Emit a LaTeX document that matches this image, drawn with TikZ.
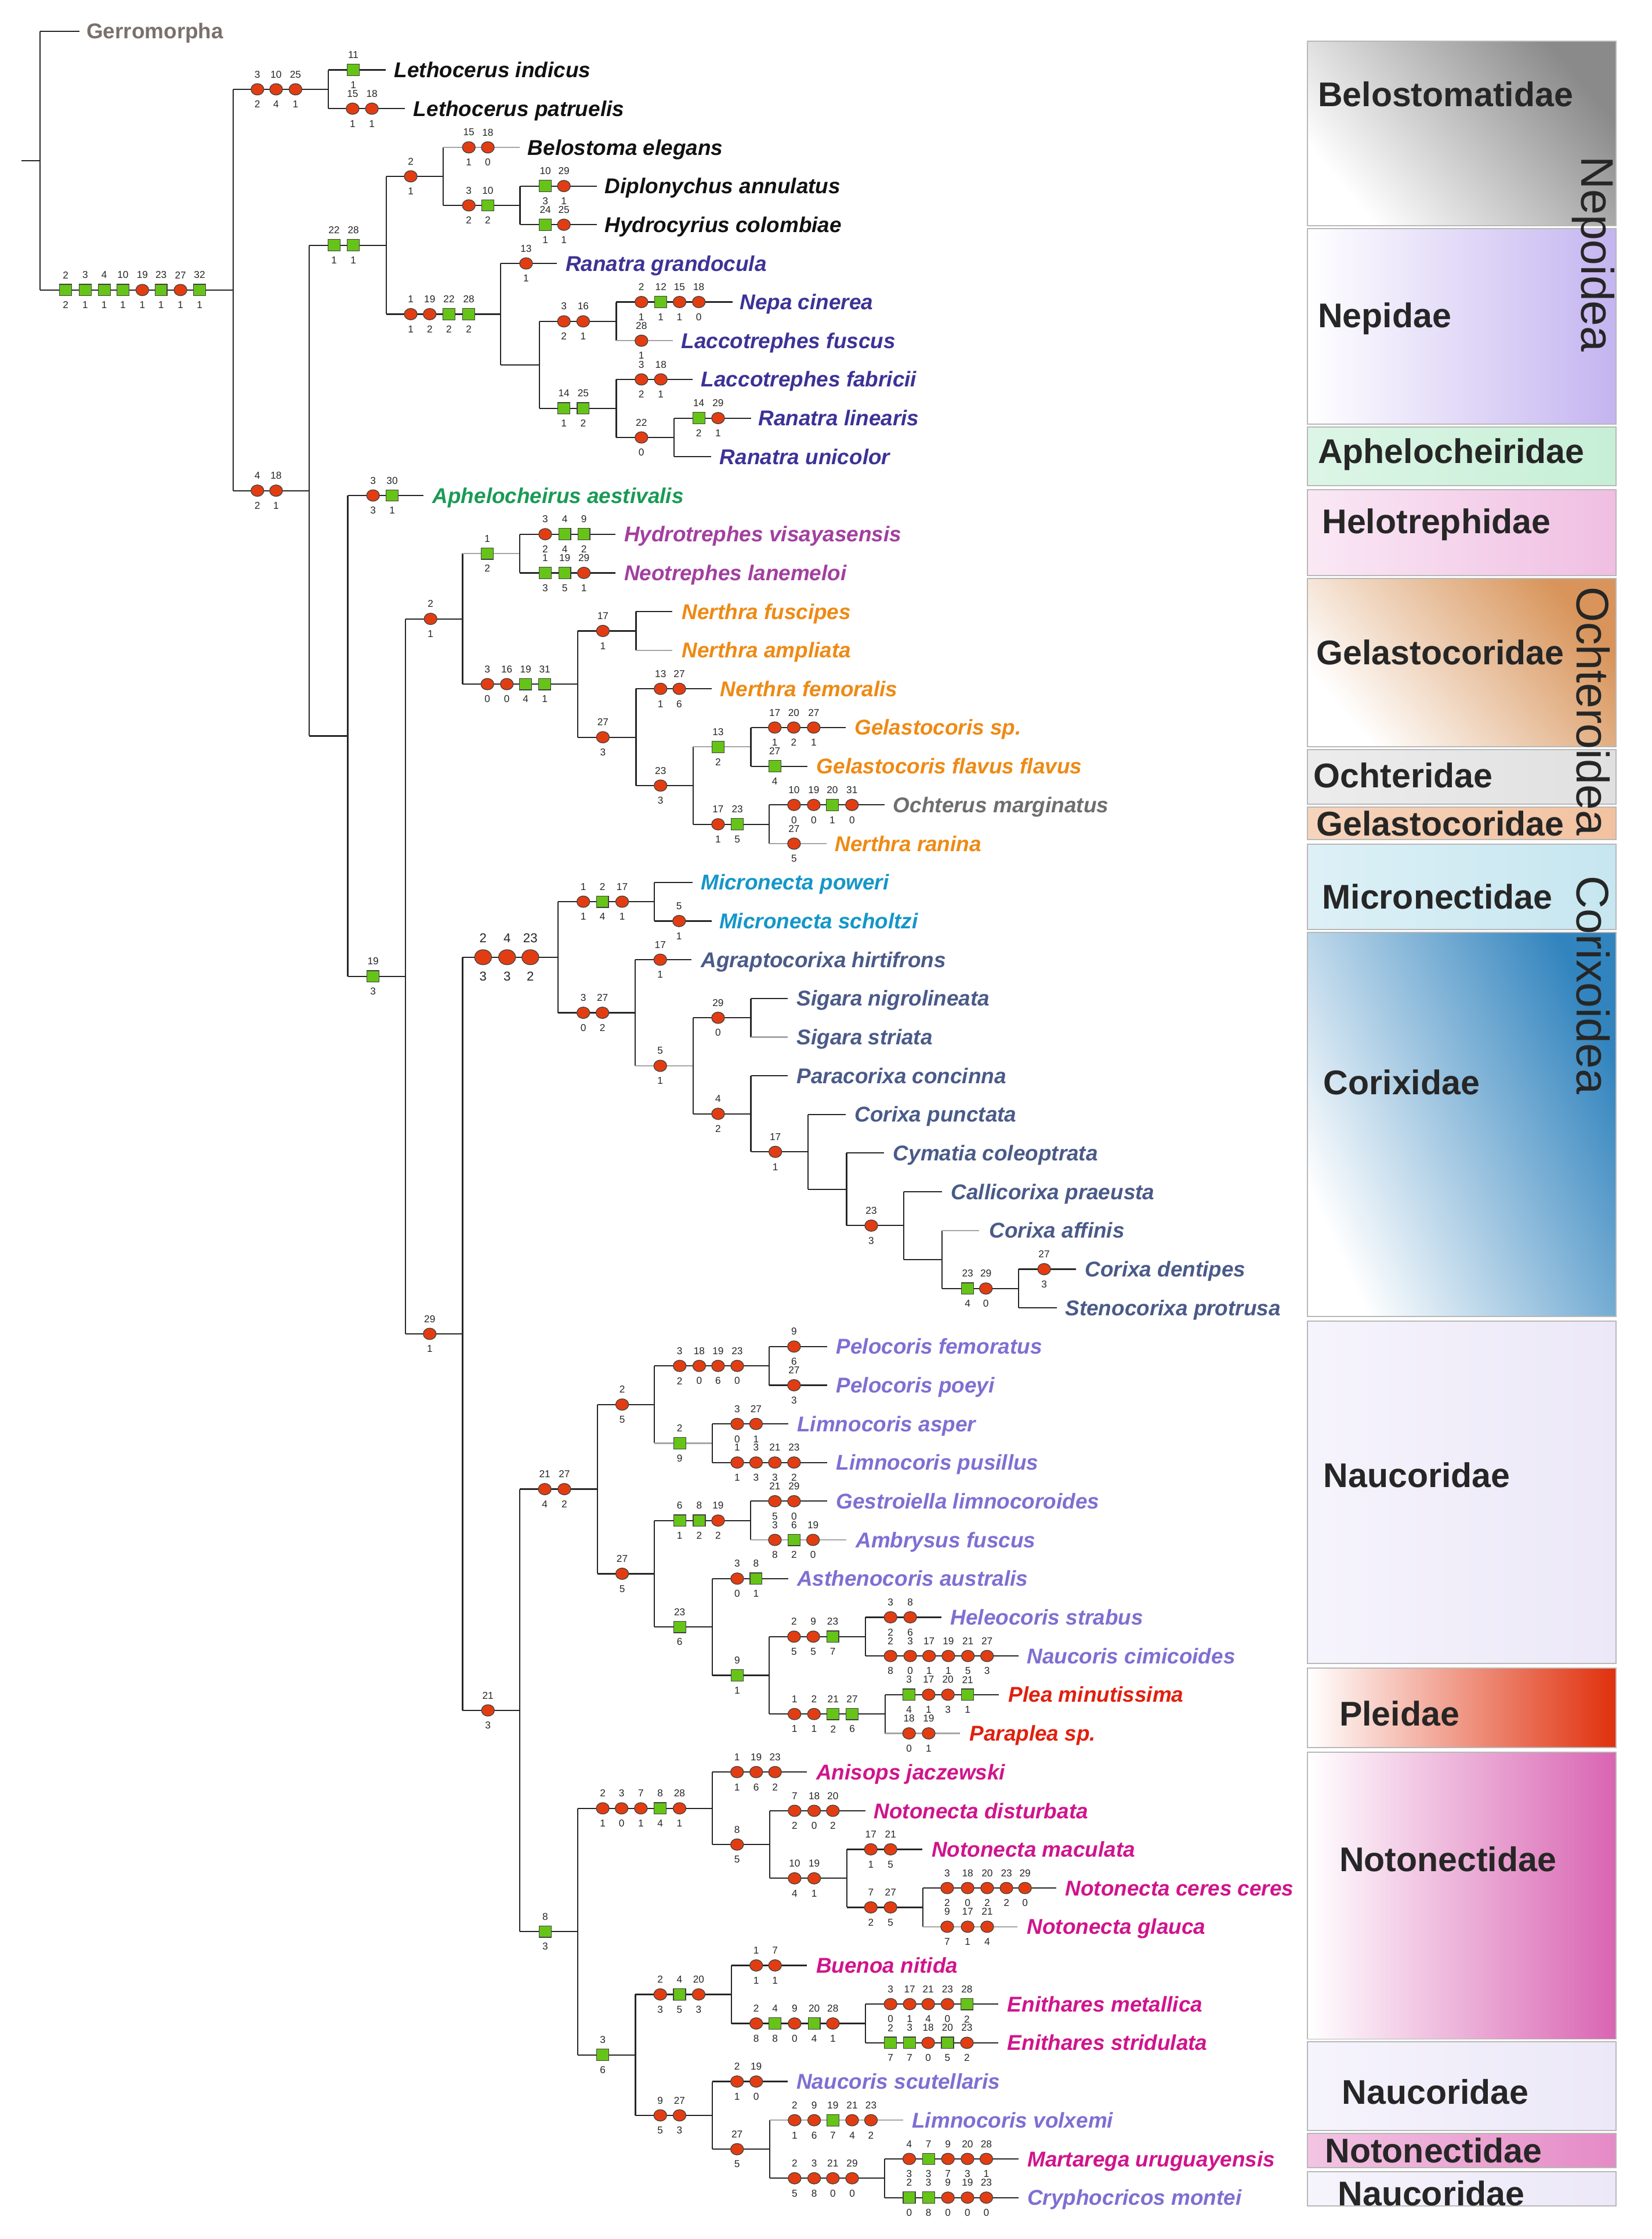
\documentclass[tikz,border=0pt]{standalone}
\usepackage{fontspec}
\setmainfont{Liberation Sans}
\usetikzlibrary{shapes.geometric}
\definecolor{cBel}{HTML}{111111}
\definecolor{cNep}{HTML}{3C3296}
\definecolor{cAph}{HTML}{1A9A55}
\definecolor{cHel}{HTML}{A23FA0}
\definecolor{cGel}{HTML}{EE8A14}
\definecolor{cOch}{HTML}{6E6E6E}
\definecolor{cMic}{HTML}{1596C8}
\definecolor{cCor}{HTML}{4A5A88}
\definecolor{cNau}{HTML}{7E6FD2}
\definecolor{cPle}{HTML}{E0200E}
\definecolor{cNot}{HTML}{D0148C}
\definecolor{cGer}{HTML}{7A706C}
\definecolor{mred}{HTML}{E23D12}
\definecolor{mgreen}{HTML}{66C418}
\definecolor{belg}{HTML}{8A8A8A}
\definecolor{nepl}{HTML}{C4B4F0}
\definecolor{aphl}{HTML}{C6EFD6}
\definecolor{hell}{HTML}{F0BEE2}
\definecolor{gela}{HTML}{D8945A}
\definecolor{ochl}{HTML}{E0E0E0}
\definecolor{gelb}{HTML}{F2C2A0}
\definecolor{micl}{HTML}{C6E6F0}
\definecolor{corl}{HTML}{3284BE}
\definecolor{naul}{HTML}{ECE8F8}
\definecolor{plel}{HTML}{E0300C}
\definecolor{notl}{HTML}{D964B2}
\definecolor{notm}{HTML}{E58AC6}
\tikzset{
  br/.style={draw=black!85, line width=0.9pt},
  gbr/.style={draw=black!35, line width=0.9pt},
  ci/.style={ellipse, draw=black!75, fill=mred, minimum width=9pt, minimum height=8pt, inner sep=0pt, line width=0.5pt},
  sq/.style={rectangle, draw=black!75, fill=mgreen, minimum width=8.5pt, minimum height=8pt, inner sep=0pt, line width=0.5pt},
  bci/.style={ellipse, draw=black!75, fill=mred, minimum width=12pt, minimum height=10.5pt, inner sep=0pt, line width=0.5pt},
  num/.style={font=\fontsize{7}{7}\selectfont, inner sep=0pt, text=black!85},
  bnum/.style={font=\fontsize{9}{9}\selectfont, inner sep=0pt, text=black!85},
  sp/.style={font=\fontsize{15}{15}\selectfont\bfseries\itshape, anchor=base west, inner sep=0pt},
  famtxt/.style={font=\fontsize{24}{24}\selectfont\bfseries, anchor=base west, inner sep=0pt, text=black!85},
  suptxt/.style={font=\fontsize{32}{32}\selectfont, rotate=-90, inner sep=0pt, text=black!85},
  fambox/.style={draw=black!28, line width=0.8pt},
}
\newcommand\mk[2]{\foreach \px/\st/\ta/\tb in {#2}{\node[\st] at (\px,#1) {}; \node[num] at (\px,#1-10.5) {\ta}; \node[num] at (\px,#1+10.5) {\tb};}}
\newcommand\mkB[2]{\foreach \px/\ta/\tb in {#2}{\node[bci] at (\px,#1) {}; \node[bnum] at (\px,#1-13.5) {\ta}; \node[bnum] at (\px,#1+13.5) {\tb};}}
\newcommand\kids[5]{\draw[br] (#1 |- #2) -- (#1 |- #3); \draw[#4] (#1 |- #2) -- (#2); \draw[#5] (#1 |- #3) -- (#3);}
\newcommand\leaf[6]{\coordinate (#1) at (#2,#3); \node[sp,text=#5] (#1l) at (#4,#3+5.3) {#6};}
\newcommand\famlab[4]{\node[famtxt] (#1) at (#2,#3+8.5) {#4};}
\begin{document}
\begin{tikzpicture}[x=1pt,y=-1pt]
\useasboundingbox (0,0) rectangle (1157,1568);
\fill[white] (0,0) rectangle (1157,1568);

% ---------- legend boxes ----------
\path[fambox, top color=belg, bottom color=white, shading angle=-50] (916,29) rectangle (1132,158);
\path[fambox, left color=white, right color=nepl] (916,160) rectangle (1132,297);
\path[fambox, left color=aphl!60, right color=aphl] (916,299) rectangle (1132,340);
\path[fambox, left color=hell!35, right color=hell] (916,343) rectangle (1132,403);
\path[fambox, top color=gela, bottom color=white, shading angle=-50] (916,405) rectangle (1132,523);
\path[fambox, left color=ochl!60, right color=ochl] (916,525) rectangle (1132,563);
\path[fambox, left color=gelb!70, right color=gelb] (916,565) rectangle (1132,588);
\path[fambox, left color=micl!60, right color=micl] (916,591) rectangle (1132,651);
\path[fambox, top color=corl, bottom color=white, shading angle=-65] (916,653) rectangle (1132,922);
\path[fambox, left color=naul!50, right color=naul] (916,925) rectangle (1132,1165);
\path[fambox, left color=white, right color=plel] (916,1168) rectangle (1132,1224);
\path[fambox, left color=white, right color=notl] (916,1227) rectangle (1132,1428);
\path[fambox, left color=naul!50, right color=naul] (916,1430) rectangle (1132,1492);
\path[fambox, left color=notm!50, right color=notm] (916,1494) rectangle (1132,1518);
\path[fambox, left color=naul!50, right color=naul] (916,1521) rectangle (1132,1545);

\famlab{f1}{923}{66}{Belostomatidae}
\famlab{f2}{923}{221}{Nepidae}
\famlab{f3}{923}{316}{Aphelocheiridae}
\famlab{f4}{926}{365}{Helotrephidae}
\famlab{f5}{922}{457}{Gelastocoridae}
\famlab{f6}{920}{543}{Ochteridae}
\famlab{f7}{922}{577}{Gelastocoridae}
\famlab{f8}{926}{628}{Micronectidae}
\famlab{f9}{927}{758}{Corixidae}
\famlab{f10}{927}{1033}{Naucoridae}
\famlab{f11}{938}{1200}{Pleidae}
\famlab{f12}{938}{1302}{Notonectidae}
\famlab{f13}{940}{1465}{Naucoridae}
\famlab{f14}{928}{1506}{Notonectidae}
\famlab{f15}{937}{1536}{Naucoridae}

\node[suptxt] (sf1) at (1116,178) {Nepoidea};
\node[suptxt] (sf2) at (1116,498) {Ochteroidea};
\node[suptxt] (sf3) at (1116,690) {Corixoidea};

% ---------- internal nodes ----------
\coordinate (stub) at (15,112.5);
\coordinate (R) at (28,112.5);
\coordinate (A) at (163.4,203.1);
\coordinate (B1) at (230,62.55);
\coordinate (B2) at (216.5,343.6);
\coordinate (C1) at (270.5,171.75);
\coordinate (D1) at (310.5,123.5);
\coordinate (E1) at (364.3,143.85);
\coordinate (D2) at (350.8,220.0);
\coordinate (E2) at (378,255.5);
\coordinate (F1) at (431.7,225.05);
\coordinate (F2) at (431.7,286.0);
\coordinate (G1) at (472,306.35);
\coordinate (C2) at (243.6,515.4);
\coordinate (H0) at (284,683.75);
\coordinate (H1) at (324,433.4);
\coordinate (I1) at (364.2,387.65);
\coordinate (I2) at (404.8,479.1);
\coordinate (J1) at (445.5,441.85);
\coordinate (J2) at (445.5,516.3);
\coordinate (K1) at (485.6,550.15);
\coordinate (L1) at (526,523.05);
\coordinate (L2) at (538.7,577.25);
\coordinate (H2) at (324,934.1);
\coordinate (M) at (391,670.35);
\coordinate (N1) at (458.4,631.45);
\coordinate (N2) at (445,709.25);
\coordinate (O1) at (485.5,746.4);
\coordinate (P1) at (526,712.75);
\coordinate (P2) at (526,780.0);
\coordinate (Q1) at (566,806.65);
\coordinate (Q2) at (593,832.9);
\coordinate (Q3) at (633,858.3);
\coordinate (Q4) at (660,882.0);
\coordinate (Q5) at (713.5,902.35);
\coordinate (NN) at (364.2,1197.8);
\coordinate (S1) at (418.4,1042.85);
\coordinate (T1) at (458.2,983.6);
\coordinate (U1) at (538.8,956.55);
\coordinate (U2) at (499,1010.7);
\coordinate (T2) at (458.2,1102.1);
\coordinate (V1) at (525.9,1064.85);
\coordinate (V2) at (499,1139.4);
\coordinate (W1) at (538.8,1173.25);
\coordinate (X1) at (606.3,1146.15);
\coordinate (X2) at (620,1200.35);
\coordinate (S2) at (404.8,1352.7);
\coordinate (Y1) at (498.8,1266.4);
\coordinate (Z1) at (539.2,1291.75);
\coordinate (Z2) at (593.1,1315.4);
\coordinate (Z3) at (646.6,1335.75);
\coordinate (Y2) at (445.1,1439.05);
\coordinate (AA1) at (512.3,1396.7);
\coordinate (AB1) at (606.3,1417.05);
\coordinate (AA2) at (498.8,1481.4);
\coordinate (AB2) at (539.2,1505.1);
\coordinate (AC1) at (619.5,1525.45);

% ---------- leaves ----------
\coordinate (g) at (55.6,21.9);
\node[font=\fontsize{15}{15}\selectfont\bfseries, text=cGer, anchor=base west, inner sep=0pt] (gl) at (60.4,21.9+5.3) {Gerromorpha};
\leaf{t0}{270}{49.0}{276}{cBel}{Lethocerus indicus}
\leaf{t1}{283.5}{76.1}{289.5}{cBel}{Lethocerus patruelis}
\leaf{t2}{364}{103.2}{369.5}{cBel}{Belostoma elegans}
\leaf{t3}{418}{130.3}{423.5}{cBel}{Diplonychus annulatus}
\leaf{t4}{418}{157.4}{423.5}{cBel}{Hydrocyrius colombiae}
\leaf{t5}{390}{184.5}{396}{cNep}{Ranatra grandocula}
\leaf{t6}{513}{211.5}{518}{cNep}{Nepa cinerea}
\leaf{t7}{471.5}{238.6}{477}{cNep}{Laccotrephes fuscus}
\leaf{t8}{485}{265.7}{491}{cNep}{Laccotrephes fabricii}
\leaf{t9}{526}{292.8}{531}{cNep}{Ranatra linearis}
\leaf{t10}{498}{319.9}{504}{cNep}{Ranatra unicolor}
\leaf{t11}{296.6}{347.0}{302.8}{cAph}{Aphelocheirus aestivalis}
\leaf{t12}{431}{374.1}{437}{cHel}{Hydrotrephes visayasensis}
\leaf{t13}{431}{401.2}{437}{cHel}{Neotrephes lanemeloi}
\leaf{t14}{471}{428.3}{477.5}{cGel}{Nerthra fuscipes}
\leaf{t15}{471}{455.4}{477.5}{cGel}{Nerthra ampliata}
\leaf{t16}{498.6}{482.4}{504.4}{cGel}{Nerthra femoralis}
\leaf{t17}{592.5}{509.5}{598.5}{cGel}{Gelastocoris sp.}
\leaf{t18}{565.5}{536.6}{571.8}{cGel}{Gelastocoris flavus flavus}
\leaf{t19}{619.7}{563.7}{625.5}{cOch}{Ochterus marginatus}
\leaf{t20}{578.8}{590.8}{584.7}{cGel}{Nerthra ranina}
\leaf{t21}{485}{617.9}{490.8}{cMic}{Micronecta poweri}
\leaf{t22}{498.6}{645.0}{503.7}{cMic}{Micronecta scholtzi}
\leaf{t23}{484.3}{672.1}{490.8}{cCor}{Agraptocorixa hirtifrons}
\leaf{t24}{551.7}{699.2}{558}{cCor}{Sigara nigrolineata}
\leaf{t25}{551.7}{726.3}{558}{cCor}{Sigara striata}
\leaf{t26}{551.7}{753.3}{558}{cCor}{Paracorixa concinna}
\leaf{t27}{592.6}{780.4}{598.5}{cCor}{Corixa punctata}
\leaf{t28}{619.4}{807.5}{625.5}{cCor}{Cymatia coleoptrata}
\leaf{t29}{660}{834.6}{666}{cCor}{Callicorixa praeusta}
\leaf{t30}{686}{861.7}{692.8}{cCor}{Corixa affinis}
\leaf{t31}{753.6}{888.8}{759.8}{cCor}{Corixa dentipes}
\leaf{t32}{740.5}{915.9}{746}{cCor}{Stenocorixa protrusa}
\leaf{t33}{579.4}{943.0}{585.6}{cNau}{Pelocoris femoratus}
\leaf{t34}{579.4}{970.1}{585.6}{cNau}{Pelocoris poeyi}
\leaf{t35}{552}{997.2}{558.2}{cNau}{Limnocoris asper}
\leaf{t36}{579.4}{1024.2}{585.6}{cNau}{Limnocoris pusillus}
\leaf{t37}{579.4}{1051.3}{585.6}{cNau}{Gestroiella limnocoroides}
\leaf{t38}{593}{1078.4}{599.3}{cNau}{Ambrysus fuscus}
\leaf{t39}{552}{1105.5}{558.2}{cNau}{Asthenocoris australis}
\leaf{t40}{659.6}{1132.6}{665.6}{cNau}{Heleocoris strabus}
\leaf{t41}{713.5}{1159.7}{719.2}{cNau}{Naucoris cimicoides}
\leaf{t42}{699.8}{1186.8}{706.3}{cPle}{Plea minutissima}
\leaf{t43}{672.6}{1213.9}{679}{cPle}{Paraplea sp.}
\leaf{t44}{565.3}{1241.0}{571.5}{cNot}{Anisops jaczewski}
\leaf{t45}{606.3}{1268.1}{612}{cNot}{Notonecta disturbata}
\leaf{t46}{646.2}{1295.1}{652.4}{cNot}{Notonecta maculata}
\leaf{t47}{740}{1322.2}{746}{cNot}{Notonecta ceres ceres}
\leaf{t48}{712.8}{1349.3}{719.2}{cNot}{Notonecta glauca}
\leaf{t49}{565.3}{1376.4}{571.5}{cNot}{Buenoa nitida}
\leaf{t50}{699.4}{1403.5}{705.5}{cNot}{Enithares metallica}
\leaf{t51}{699.4}{1430.6}{705.5}{cNot}{Enithares stridulata}
\leaf{t52}{551.6}{1457.7}{557.8}{cNau}{Naucoris scutellaris}
\leaf{t53}{632.5}{1484.8}{638.7}{cNau}{Limnocoris volxemi}
\leaf{t54}{713.3}{1511.9}{719.5}{cNot}{Martarega uruguayensis}
\leaf{t55}{713.3}{1539.0}{719.5}{cNau}{Cryphocricos montei}

% ---------- branches ----------
\draw[br] (stub) -- (R);
\kids{R}{g}{A}{br}{br}
\kids{A}{B1}{B2}{br}{br}
\kids{B1}{t0}{t1}{br}{br}
\kids{B2}{C1}{C2}{br}{br}
\kids{C1}{D1}{D2}{br}{br}
\kids{D1}{t2}{E1}{gbr}{br}
\kids{E1}{t3}{t4}{br}{br}
\kids{D2}{t5}{E2}{br}{br}
\kids{E2}{F1}{F2}{br}{br}
\kids{F1}{t6}{t7}{br}{gbr}
\kids{F2}{t8}{G1}{br}{br}
\kids{G1}{t9}{t10}{br}{br}
\kids{C2}{t11}{H0}{br}{br}
\kids{H0}{H1}{H2}{br}{br}
\kids{H1}{I1}{I2}{gbr}{br}
\kids{I1}{t12}{t13}{br}{br}
\kids{I2}{J1}{J2}{br}{br}
\kids{J1}{t14}{t15}{br}{gbr}
\kids{J2}{t16}{K1}{br}{br}
\kids{K1}{L1}{L2}{gbr}{br}
\kids{L1}{t17}{t18}{br}{br}
\kids{L2}{t19}{t20}{br}{gbr}
\kids{H2}{M}{NN}{br}{br}
\kids{M}{N1}{N2}{br}{br}
\kids{N1}{t21}{t22}{br}{br}
\kids{N2}{t23}{O1}{br}{gbr}
\kids{O1}{P1}{P2}{br}{br}
\kids{P1}{t24}{t25}{br}{gbr}
\kids{P2}{t26}{Q1}{br}{br}
\kids{Q1}{t27}{Q2}{br}{br}
\kids{Q2}{t28}{Q3}{br}{br}
\kids{Q3}{t29}{Q4}{br}{br}
\kids{Q4}{t30}{Q5}{gbr}{br}
\kids{Q5}{t31}{t32}{br}{br}
\kids{NN}{S1}{S2}{br}{br}
\kids{S1}{T1}{T2}{br}{br}
\kids{T1}{U1}{U2}{br}{gbr}
\kids{U1}{t33}{t34}{br}{br}
\kids{U2}{t35}{t36}{br}{br}
\kids{T2}{V1}{V2}{br}{br}
\kids{V1}{t37}{t38}{br}{gbr}
\kids{V2}{t39}{W1}{br}{br}
\kids{W1}{X1}{X2}{br}{br}
\kids{X1}{t40}{t41}{br}{br}
\kids{X2}{t42}{t43}{br}{gbr}
\kids{S2}{Y1}{Y2}{br}{br}
\kids{Y1}{t44}{Z1}{br}{br}
\kids{Z1}{t45}{Z2}{br}{br}
\kids{Z2}{t46}{Z3}{br}{br}
\kids{Z3}{t47}{t48}{br}{gbr}
\kids{Y2}{AA1}{AA2}{br}{br}
\kids{AA1}{t49}{AB1}{br}{br}
\kids{AB1}{t50}{t51}{br}{br}
\kids{AA2}{t52}{AB2}{br}{br}
\kids{AB2}{t53}{AC1}{gbr}{br}
\kids{AC1}{t54}{t55}{br}{br}

% ---------- character states ----------
\mk{203.1}{46/sq/2/2, 59.7/sq/3/1, 73/sq/4/1, 86.1/sq/10/1, 99.7/ci/19/1, 112.8/sq/23/1, 126.4/ci/27/1, 139.8/sq/32/1}
\mk{62.55}{180.3/ci/3/2, 193.4/ci/10/4, 207/ci/25/1}
\mk{49.0}{247.5/sq/11/1}
\mk{76.1}{247/ci/15/1, 260.5/ci/18/1}
\mk{343.6}{180.3/ci/4/2, 193.4/ci/18/1}
\mk{171.75}{234/sq/22/1, 247.5/sq/28/1}
\mk{123.5}{287.7/ci/2/1}
\mk{103.2}{328.4/ci/15/1, 341.7/ci/18/0}
\mk{143.85}{328.4/ci/3/2, 341.7/sq/10/2}
\mk{130.3}{382/sq/10/3, 395/ci/29/1}
\mk{157.4}{382/sq/24/1, 395/ci/25/1}
\mk{220.0}{287.7/ci/1/1, 301/ci/19/2, 314.5/sq/22/2, 328.4/sq/28/2}
\mk{184.5}{368.5/ci/13/1}
\mk{225.05}{395/ci/3/2, 408.5/ci/16/1}
\mk{211.5}{449.3/ci/2/1, 462.9/sq/12/1, 476/ci/15/1, 489.5/ci/18/0}
\mk{238.6}{449.3/ci/28/1}
\mk{286.0}{395/sq/14/1, 408.5/sq/25/2}
\mk{265.7}{449.3/ci/3/2, 462.9/ci/18/1}
\mk{306.35}{449.3/ci/22/0}
\mk{292.8}{489.5/sq/14/2, 503/ci/29/1}
\mk{347.0}{261.3/ci/3/3, 274.7/sq/30/1}
\mk{683.75}{261.3/sq/19/3}
\mk{433.4}{301.6/ci/2/1}
\mk{387.65}{341.4/sq/1/2}
\mk{374.1}{381.9/ci/3/2, 395.6/sq/4/4, 409/sq/9/2}
\mk{401.2}{381.9/sq/1/3, 395.6/sq/19/5, 409/ci/29/1}
\mk{479.1}{341.4/ci/3/0, 355/ci/16/0, 368.2/sq/19/4, 381.6/sq/31/1}
\mk{441.85}{422.3/ci/17/1}
\mk{516.3}{422.3/ci/27/3}
\mk{482.4}{462.7/ci/13/1, 475.8/ci/27/6}
\mk{550.15}{462.7/ci/23/3}
\mk{523.05}{503/sq/13/2}
\mk{509.5}{542.7/ci/17/1, 556/ci/20/2, 570/ci/27/1}
\mk{536.6}{542.7/sq/27/4}
\mk{577.25}{503/ci/17/1, 516.5/sq/23/5}
\mk{563.7}{556.2/ci/10/0, 570/ci/19/0, 583/sq/20/1, 596.8/ci/31/0}
\mk{590.8}{556.2/ci/27/5}
\mk{934.1}{301/ci/29/1}
\mkB{670.35}{338.4/2/3, 355.2/4/3, 371.5/23/2}
\mk{631.45}{408.6/ci/1/1, 422/sq/2/4, 435.8/ci/17/1}
\mk{645.0}{475.7/ci/5/1}
\mk{709.25}{408.6/ci/3/0, 422/ci/27/2}
\mk{672.1}{462.5/ci/17/1}
\mk{746.4}{462.5/ci/5/1}
\mk{712.75}{503/ci/29/0}
\mk{780.0}{503/ci/4/2}
\mk{806.65}{543.1/ci/17/1}
\mk{858.3}{610.3/ci/23/3}
\mk{902.35}{677.8/sq/23/4, 690.6/ci/29/0}
\mk{888.8}{731.4/ci/27/3}
\mk{1197.8}{341.8/ci/21/3}
\mk{1042.85}{381.6/ci/21/4, 395.3/ci/27/2}
\mk{983.6}{435.8/ci/2/5}
\mk{956.55}{476.1/ci/3/2, 489.8/ci/18/0, 503/ci/19/6, 516.4/ci/23/0}
\mk{943.0}{556.2/ci/9/6}
\mk{970.1}{556.2/ci/27/3}
\mk{1010.7}{476.1/sq/2/9}
\mk{997.2}{516.4/ci/3/0, 529.6/ci/27/1}
\mk{1024.2}{516.4/ci/1/1, 529.6/ci/3/3, 542.8/ci/21/3, 556.2/ci/23/2}
\mk{1102.1}{435.8/ci/27/5}
\mk{1064.85}{476.1/sq/6/1, 489.8/sq/8/2, 503/ci/19/2}
\mk{1051.3}{542.8/ci/21/5, 556.2/ci/29/0}
\mk{1078.4}{542.8/ci/3/8, 556.2/sq/6/2, 569.5/ci/19/0}
\mk{1139.4}{476.1/sq/23/6}
\mk{1105.5}{516.4/ci/3/0, 529.6/sq/8/1}
\mk{1173.25}{516.4/sq/9/1}
\mk{1146.15}{556.2/ci/2/5, 569.7/ci/9/5, 583.3/sq/23/7}
\mk{1132.6}{623.8/ci/3/2, 637.6/ci/8/6}
\mk{1159.7}{623.8/ci/2/8, 637.6/ci/3/0, 650.8/ci/17/1, 664.3/ci/19/1, 678/ci/21/5, 691.4/ci/27/3}
\mk{1200.35}{556.5/ci/1/1, 570.2/ci/2/1, 583.6/sq/21/2, 596.9/sq/27/6}
\mk{1186.8}{636.8/sq/3/4, 650.5/ci/17/1, 664/ci/20/3, 677.8/sq/21/1}
\mk{1213.9}{636.8/ci/18/0, 650.5/ci/19/1}
\mk{1352.7}{381.9/sq/8/3}
\mk{1266.4}{422.2/ci/2/1, 435.4/ci/3/0, 448.9/ci/7/1, 462.5/sq/8/4, 476/ci/28/1}
\mk{1241.0}{516.3/ci/1/1, 529.7/ci/19/6, 542.9/ci/23/2}
\mk{1291.75}{516.3/ci/8/5}
\mk{1268.1}{556.6/ci/7/2, 570.3/ci/18/0, 583.4/ci/20/2}
\mk{1315.4}{556.6/ci/10/4, 570.3/ci/19/1}
\mk{1295.1}{610/ci/17/1, 623.8/ci/21/5}
\mk{1335.75}{610/ci/7/2, 623.8/ci/27/5}
\mk{1322.2}{663.5/ci/3/2, 677.8/ci/18/0, 691.5/ci/20/2, 705/ci/23/2, 718/ci/29/0}
\mk{1349.3}{663.5/ci/9/7, 677.8/ci/17/1, 691.5/ci/21/4}
\mk{1439.05}{422.2/sq/3/6}
\mk{1396.7}{462.5/ci/2/3, 476/sq/4/5, 489.4/ci/20/3}
\mk{1376.4}{529.7/ci/1/1, 542.9/ci/7/1}
\mk{1417.05}{529.7/ci/2/8, 542.9/sq/4/8, 556.6/ci/9/0, 570.3/sq/20/4, 583.4/ci/28/1}
\mk{1403.5}{623.8/ci/3/0, 637.2/ci/17/1, 650.2/ci/21/4, 663.7/ci/23/0, 677.3/sq/28/2}
\mk{1430.6}{623.8/sq/2/7, 637.2/sq/3/7, 650.2/ci/18/0, 663.7/sq/20/5, 677.3/ci/23/2}
\mk{1481.4}{462.5/ci/9/5, 476/ci/27/3}
\mk{1457.7}{516.3/ci/2/1, 529.7/ci/19/0}
\mk{1505.1}{516.3/ci/27/5}
\mk{1484.8}{556.6/ci/2/1, 570.3/ci/9/6, 583.4/sq/19/7, 596.9/ci/21/4, 610.1/ci/23/2}
\mk{1525.45}{556.6/ci/2/5, 570.3/ci/3/8, 583.4/ci/21/0, 596.9/ci/29/0}
\mk{1511.9}{636.9/ci/4/3, 650.4/sq/7/3, 664/ci/9/7, 677.7/ci/20/3, 690.9/ci/28/1}
\mk{1539.0}{636.9/sq/2/0, 650.4/sq/3/8, 664/ci/9/0, 677.7/ci/19/0, 690.9/ci/23/0}
\end{tikzpicture}
\end{document}
